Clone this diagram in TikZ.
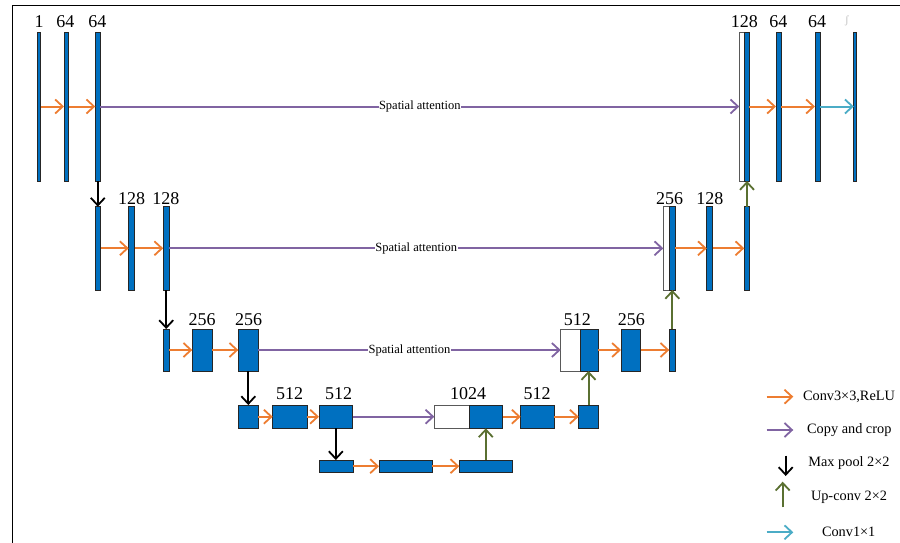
\documentclass[tikz,border=0pt]{standalone}
\usepackage{fontspec}
\setmainfont{Liberation Serif}
\usetikzlibrary{arrows.meta}
\definecolor{ublue}{HTML}{0070C0}
\definecolor{uorange}{HTML}{ED7D31}
\definecolor{upurple}{HTML}{8064A2}
\definecolor{ugreen}{HTML}{5A7031}
\definecolor{ucyan}{HTML}{4BACC6}
\begin{document}
\begin{tikzpicture}[x=1pt,y=-1pt,
  blk/.style={rectangle, draw=black!85, fill=ublue, line width=0.8pt, inner sep=0pt, outer sep=0pt},
  wblk/.style={blk, fill=white, draw=black!65},
  sz/.style 2 args={minimum width=#1pt, minimum height=#2pt},
  tip/.style={-{Straight Barb[length=7.5pt,width=14pt,line width=1.8pt]}},
  conv/.style={draw=uorange, line width=2pt, tip},
  copyc/.style={draw=upurple, line width=2pt, tip},
  pool/.style={draw=black, line width=1.8pt, tip},
  upc/.style={draw=ugreen, line width=2pt, tip},
  onec/.style={draw=ucyan, line width=2pt, tip},
  lbl/.style={anchor=base, inner sep=0pt, font=\fontsize{18}{18}\selectfont},
  satt/.style={fill=white, inner sep=0.5pt, font=\fontsize{12.5}{12.5}\selectfont},
  leg/.style={font=\fontsize{14.3}{14.3}\selectfont, inner sep=0pt}
]
\useasboundingbox (0,0) rectangle (900,543);
\coordinate (fa) at (12,543);
\coordinate (fb) at (12,5.3);
\coordinate (fc) at (900,5.3);
\draw[line width=0.9pt] (fa) -- (fb) -- (fc);

% ---- row 1
\node[blk, sz={3.5}{149}] (b11) at (39,106.5) {};
\node[blk, sz={4.6}{149}] (b12) at (66.3,106.5) {};
\node[blk, sz={5}{149}] (b13) at (97.8,106.5) {};
\node[wblk, sz={5}{149}] (r1w) at (741.8,106.5) {};
\node[blk, sz={5}{149}] (r1b) at (746.8,106.5) {};
\node[blk, sz={5}{149}] (b15) at (778.5,106.5) {};
\node[blk, sz={5}{149}] (b16) at (817.5,106.5) {};
\node[blk, sz={3}{149}] (b17) at (855.3,106.5) {};

% ---- row 2
\node[blk, sz={5.4}{83.3}] (b21) at (98,248.3) {};
\node[blk, sz={6}{83.3}] (b22) at (131.7,248.3) {};
\node[blk, sz={6}{83.3}] (b23) at (166.2,248.3) {};
\node[wblk, sz={6}{83.3}] (r2w) at (666.3,248.3) {};
\node[blk, sz={6}{83.3}] (r2b) at (672.3,248.3) {};
\node[blk, sz={6}{83.3}] (b25) at (709.8,248.3) {};
\node[blk, sz={5.4}{83.3}] (b26) at (747,248.3) {};

% ---- row 3
\node[blk, sz={6}{42}] (b31) at (166.2,350) {};
\node[blk, sz={20}{42}] (b32) at (202.3,350) {};
\node[blk, sz={20}{42}] (b33) at (248.3,350) {};
\node[wblk, sz={20}{42}] (r3w) at (570.7,350) {};
\node[blk, sz={17.6}{42}] (r3b) at (589.5,350) {};
\node[blk, sz={19.7}{42}] (b35) at (630.8,350) {};
\node[blk, sz={6}{42}] (b36) at (672.3,350) {};

% ---- row 4
\node[blk, sz={20}{23.3}] (b41) at (248.3,416.7) {};
\node[blk, sz={34.6}{23.3}] (b42) at (290,416.7) {};
\node[blk, sz={33.7}{23.3}] (b43) at (335.8,416.7) {};
\node[wblk, sz={34.7}{23.3}] (r4w) at (451.7,416.7) {};
\node[blk, sz={33.7}{23.3}] (r4b) at (485.8,416.7) {};
\node[blk, sz={33.6}{23.3}] (b45) at (537.5,416.7) {};
\node[blk, sz={19.6}{23.3}] (b46) at (588.5,416.7) {};

% ---- row 5
\node[blk, sz={34.3}{12.3}] (b51) at (336.2,466.2) {};
\node[blk, sz={53}{12.3}] (b52) at (405.5,466.2) {};
\node[blk, sz={53}{12.3}] (b53) at (485.8,466.2) {};

% ---- labels
\node[lbl] (l11) at (39,27.3) {1};
\node[lbl] (l12) at (65.3,27.3) {64};
\node[lbl] (l13) at (97.3,27.3) {64};
\node[lbl] (l14) at (744.3,27.3) {128};
\node[lbl] (l15) at (778.3,27.3) {64};
\node[lbl] (l16) at (817,27.3) {64};
\node[anchor=base, inner sep=0pt, text=black!25, font=\fontsize{11}{11}\selectfont] (l17) at (847,24) {ʃ};
\node[lbl] (l22) at (131.7,204) {128};
\node[lbl] (l23) at (165.8,204) {128};
\node[lbl] (l24) at (669.5,204) {256};
\node[lbl] (l25) at (709.8,204) {128};
\node[lbl] (l32) at (202,325.7) {256};
\node[lbl] (l33) at (248.5,325.7) {256};
\node[lbl] (l34) at (577.3,325.7) {512};
\node[lbl] (l35) at (631.3,325.7) {256};
\node[lbl] (l42) at (289.5,399) {512};
\node[lbl] (l43) at (338.5,399) {512};
\node[lbl] (l44) at (468,399) {1024};
\node[lbl] (l45) at (537,399) {512};

% ---- conv arrows
\draw[conv] (b11.east) -- (b12.west);
\draw[conv] (b12.east) -- (b13.west);
\draw[conv] (r1b.east) -- (b15.west);
\draw[conv] (b15.east) -- (b16.west);
\draw[onec] (b16.east) -- (b17.west);
\draw[conv] (b21.east) -- (b22.west);
\draw[conv] (b22.east) -- (b23.west);
\draw[conv] (r2b.east) -- (b25.west);
\draw[conv] (b25.east) -- (b26.west);
\draw[conv] (b31.east) -- (b32.west);
\draw[conv] (b32.east) -- (b33.west);
\draw[conv] (r3b.east) -- (b35.west);
\draw[conv] (b35.east) -- (b36.west);
\draw[conv] (b41.east) -- (b42.west);
\draw[conv] (b42.east) -- (b43.west);
\draw[conv] (r4b.east) -- (b45.west);
\draw[conv] (b45.east) -- (b46.west);
\draw[conv] (b51.east) -- (b52.west);
\draw[conv] (b52.east) -- (b53.west);

% ---- copy and crop
\draw[copyc] (b13.east) -- node[satt] (sa1) {Spatial attention} (r1w.west);
\draw[copyc] (b23.east) -- node[satt] (sa2) {Spatial attention} (r2w.west);
\draw[copyc] (b33.east) -- node[satt] (sa3) {Spatial attention} (r3w.west);
\draw[copyc] (b43.east) -- (r4w.west);

% ---- max pool
\draw[pool] (b13.south) -- (b13.south |- b21.north);
\draw[pool] (b23.south) -- (b23.south |- b31.north);
\draw[pool] (b33.south) -- (b33.south |- b41.north);
\draw[pool] (b43.south) -- (b43.south |- b51.north);

% ---- up-conv
\draw[upc] (b26.north) -- (b26.north |- r1b.south);
\draw[upc] (b36.north) -- (b36.north |- r2b.south);
\draw[upc] (b46.north) -- (b46.north |- r3b.south);
\draw[upc] (b53.north) -- (b53.north |- r4b.south);

% ---- legend
\coordinate (g1a) at (766.7,396.7); \coordinate (g1b) at (793.3,396.7);
\coordinate (g2a) at (766.7,430);   \coordinate (g2b) at (793.3,430);
\coordinate (g3a) at (785.7,455.7); \coordinate (g3b) at (785.7,476);
\coordinate (g4a) at (782.7,507.3); \coordinate (g4b) at (782.7,481.7);
\coordinate (g5a) at (766.7,532.3); \coordinate (g5b) at (793.3,532.3);
\draw[conv] (g1a) -- (g1b);
\draw[copyc] (g2a) -- (g2b);
\draw[pool] (g3a) -- (g3b);
\draw[upc] (g4a) -- (g4b);
\draw[onec] (g5a) -- (g5b);
\node[leg] (t1) at (849,396.7) {Conv3×3,ReLU};
\node[leg] (t2) at (849.3,430) {Copy and crop};
\node[leg] (t3) at (849,463) {Max pool 2×2};
\node[leg] (t4) at (849,497.7) {Up-conv 2×2};
\node[leg] (t5) at (848.7,532.3) {Conv1×1};
\end{tikzpicture}
\end{document}
